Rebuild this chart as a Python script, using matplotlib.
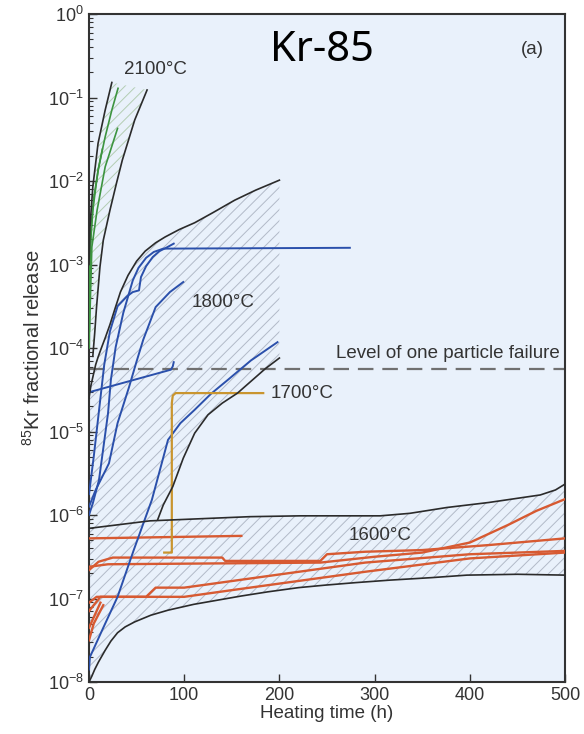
"""
Kr-85 fractional release vs heating time for several heating temperatures.
Bands (hatched) show the spread of measured curves at each temperature.
"""
import numpy as np
import matplotlib
matplotlib.use("Agg")
import matplotlib.pyplot as plt
from matplotlib.ticker import FixedLocator, LogLocator, NullFormatter

plt.rcParams['font.family'] = ['Liberation Sans', 'DejaVu Sans']
plt.rcParams['hatch.linewidth'] = 0.7

# All curves: (heating time in h, log10 of fractional release)

# band envelopes (black)
env2100_left = ([0, 1, 4, 9.5, 17, 24],
                [-3.0, -2.55, -2.07, -1.55, -1.15, -0.82])
env2100_right = ([4, 6, 8, 11.5, 15, 22, 29, 35, 48, 61],
                 [-4.1, -3.82, -3.5, -3.03, -2.71, -2.35, -2.02, -1.75, -1.27, -0.91])
env1800_upper = ([0, 2, 4, 7, 9.5, 13, 17, 22, 27, 33, 41, 50, 59, 70, 80, 95, 111, 130, 153, 175, 200],
                 [-4.6, -4.45, -4.35, -4.2, -4.11, -4.0, -3.88, -3.72, -3.54, -3.33, -3.13, -2.96,
                  -2.84, -2.74, -2.67, -2.58, -2.50, -2.38, -2.23, -2.11, -1.99])
env1800_lower = ([72, 78, 88, 99, 111, 125, 140, 156, 170, 185, 200],
                 [-6.06, -5.88, -5.66, -5.32, -5.02, -4.80, -4.66, -4.54, -4.40, -4.25, -4.12])
env1600_upper = ([0, 64, 169, 222, 306, 337, 376, 420, 474, 490, 500],
                 [-6.16, -6.07, -6.02, -6.01, -6.01, -5.98, -5.91, -5.85, -5.76, -5.70, -5.63])
env1600_lower = ([0, 3, 6, 10, 17, 23, 30, 38, 48, 65, 83, 110, 135, 160, 188, 220, 248,
                  280, 316, 360, 397, 450, 500],
                 [-8.0, -7.93, -7.85, -7.76, -7.62, -7.51, -7.41, -7.34, -7.28, -7.20, -7.14,
                  -7.07, -7.02, -6.97, -6.92, -6.87, -6.84, -6.81, -6.78, -6.75, -6.72, -6.71, -6.72])

# 2100°C measurements (green)
green_2100 = [
    ([0.3, 1, 4, 9.5, 17, 24, 30.5], [-4.0, -2.86, -2.35, -1.87, -1.47, -1.15, -0.89]),
    ([0.5, 3, 8.5, 17, 30], [-3.8, -2.79, -2.35, -1.83, -1.37]),
    ([0.2, 2, 5, 10, 14], [-3.5, -2.6, -2.2, -1.85, -1.62]),
]

# 1800°C measurements (blue)
blue_1800 = [
    ([0, 4, 10.5, 20, 23, 28, 36, 46, 52, 60, 68, 78, 274],
     [-6.0, -5.86, -5.58, -4.78, -4.38, -3.99, -3.58, -3.19, -3.04, -2.92, -2.85, -2.81, -2.80]),
    ([0, 5, 11, 16, 22, 30, 40, 46, 52.5, 54.6, 60, 67, 74, 81, 89],
     [-5.75, -5.3, -4.7, -4.2, -3.8, -3.5, -3.38, -3.33, -3.31, -3.15, -3.02, -2.91, -2.84,
      -2.80, -2.75]),
    ([0, 7, 18, 21, 30, 42, 50, 57, 70, 85, 99],
     [-5.9, -5.70, -5.45, -5.38, -4.9, -4.47, -4.16, -3.90, -3.51, -3.33, -3.21]),
    ([0, 86, 88, 89], [-4.53, -4.26, -4.22, -4.17]),
    ([0, 1, 15, 30, 47, 66, 75, 83, 96, 111, 128, 146, 170, 198],
     [-7.85, -7.70, -7.35, -6.98, -6.42, -5.82, -5.44, -5.10, -4.90, -4.74, -4.55, -4.38,
      -4.15, -3.93]),
]

# 1700°C measurement (orange)
orange_1700 = ([79, 87, 87, 88, 91, 183], [-6.45, -6.45, -4.66, -4.57, -4.54, -4.54])

# 1600°C measurements (red)
red_1600 = [
    ([0, 160], [-6.28, -6.25]),
    ([0, 10, 25, 140, 143, 243, 250, 290, 350, 420, 500],
     [-6.66, -6.56, -6.51, -6.51, -6.55, -6.55, -6.47, -6.44, -6.42, -6.36, -6.28]),
    ([0, 20, 243, 300, 350, 400, 440, 470, 500],
     [-6.62, -6.59, -6.57, -6.50, -6.45, -6.33, -6.12, -5.95, -5.81]),
    ([0, 8, 60, 70, 100, 290, 400, 500],
     [-7.05, -6.98, -6.98, -6.87, -6.87, -6.57, -6.47, -6.43]),
    ([0, 12, 100, 150, 290, 400, 500],
     [-7.15, -6.98, -6.98, -6.90, -6.68, -6.52, -6.45]),
    ([0, 12], [-7.35, -7.05]),
    ([0, 5, 15], [-7.5, -7.3, -7.08]),
]

one_particle_failure = -4.25

x_ticks = [0, 100, 200, 300, 400, 500]
y_decades = [-8, -7, -6, -5, -4, -3, -2, -1, 0]


def xy(curve):
    t, e = curve
    return np.asarray(t, dtype=float), 10.0 ** np.asarray(e, dtype=float)


def hatch_band(ax, top, bottom, color):
    # polygon: along top curve, back along bottom curve
    t = list(top[0]) + list(bottom[0])[::-1]
    e = list(top[1]) + list(bottom[1])[::-1]
    x, y = xy((t, e))
    ax.fill(x, y, facecolor='none', edgecolor=color, hatch='///', linewidth=0, zorder=1)


def main():
    fig = plt.figure(figsize=(5.84, 7.34), dpi=100)
    ax = fig.add_axes([89 / 584, 52 / 734, 476 / 584, 668 / 734])
    ax.set_facecolor('#e9f1fb')
    ax.set_yscale('log')

    # hatched bands
    hatch_band(ax, env2100_left, env2100_right, '#b3cdb3')
    low_part = [(t, e) for t, e in zip(*env1600_upper) if t < env1800_lower[0][0]]
    bottom1800 = ([p[0] for p in low_part] + list(env1800_lower[0]),
                  [p[1] for p in low_part] + list(env1800_lower[1]))
    hatch_band(ax, env1800_upper, bottom1800, '#b2bac8')
    hatch_band(ax, env1600_upper, env1600_lower, '#b2bac8')

    for c in green_2100:
        ax.plot(*xy(c), color='#3d9440', lw=1.2, zorder=3)
    for c in red_1600:
        ax.plot(*xy(c), color='#d75a32', lw=1.7, zorder=3)
    for c in blue_1800:
        ax.plot(*xy(c), color='#2b50ab', lw=1.4, zorder=4)
    ax.plot(*xy(orange_1700), color='#c9952f', lw=1.6, zorder=4)

    for env in (env2100_left, env2100_right, env1800_upper, env1800_lower,
                env1600_upper, env1600_lower):
        ax.plot(*xy(env), color='#2b2b2b', lw=1.2, zorder=5)

    ax.axhline(10 ** one_particle_failure, color='#707070', lw=1.6, dashes=(7, 4), zorder=2)

    # labels
    txt = dict(fontsize=13.5, color='#333333', zorder=6)
    ax.text(70, 10 ** -0.67, '2100°C', ha='center', va='center', **txt)
    ax.text(141, 10 ** -3.45, '1800°C', ha='center', va='center', **txt)
    ax.text(191, 10 ** -4.54, '1700°C', ha='left', va='center', **txt)
    ax.text(306, 10 ** -6.24, '1600°C', ha='center', va='center', **txt)
    ax.text(494, 10 ** -4.06, 'Level of one particle failure', ha='right', va='center', **txt)
    ax.text(466, 10 ** -0.42, '(a)', ha='center', va='center', **txt)
    ax.text(245, 10 ** -0.43, 'Kr-85', ha='center', va='center', fontsize=30,
            family=['Noto Sans', 'DejaVu Sans'], color='black', zorder=6)

    ax.set_xlim(0, 500)
    ax.set_ylim(1e-8, 1)
    ax.set_xticks(x_ticks)
    ax.yaxis.set_major_locator(FixedLocator([10.0 ** d for d in y_decades]))
    ax.yaxis.set_minor_locator(LogLocator(base=10, subs=np.arange(2, 10), numticks=20))
    ax.yaxis.set_minor_formatter(NullFormatter())
    ax.tick_params(which='both', direction='in', top=False, right=False,
                   labelsize=13, labelcolor='#333333', color='#333333')
    ax.tick_params(which='major', length=6, width=1)
    ax.tick_params(which='minor', length=3, width=0.8)
    for s in ax.spines.values():
        s.set_color('#333333')
        s.set_linewidth(1.5)

    ax.set_xlabel('Heating time (h)', fontsize=13.5, color='#333333', labelpad=1)
    ax.set_ylabel(r'$\mathdefault{^{85}}$Kr fractional release', fontsize=14.5,
                  color='#333333', labelpad=3)

    fig.savefig('out.png', dpi=100)


if __name__ == "__main__":
    main()
